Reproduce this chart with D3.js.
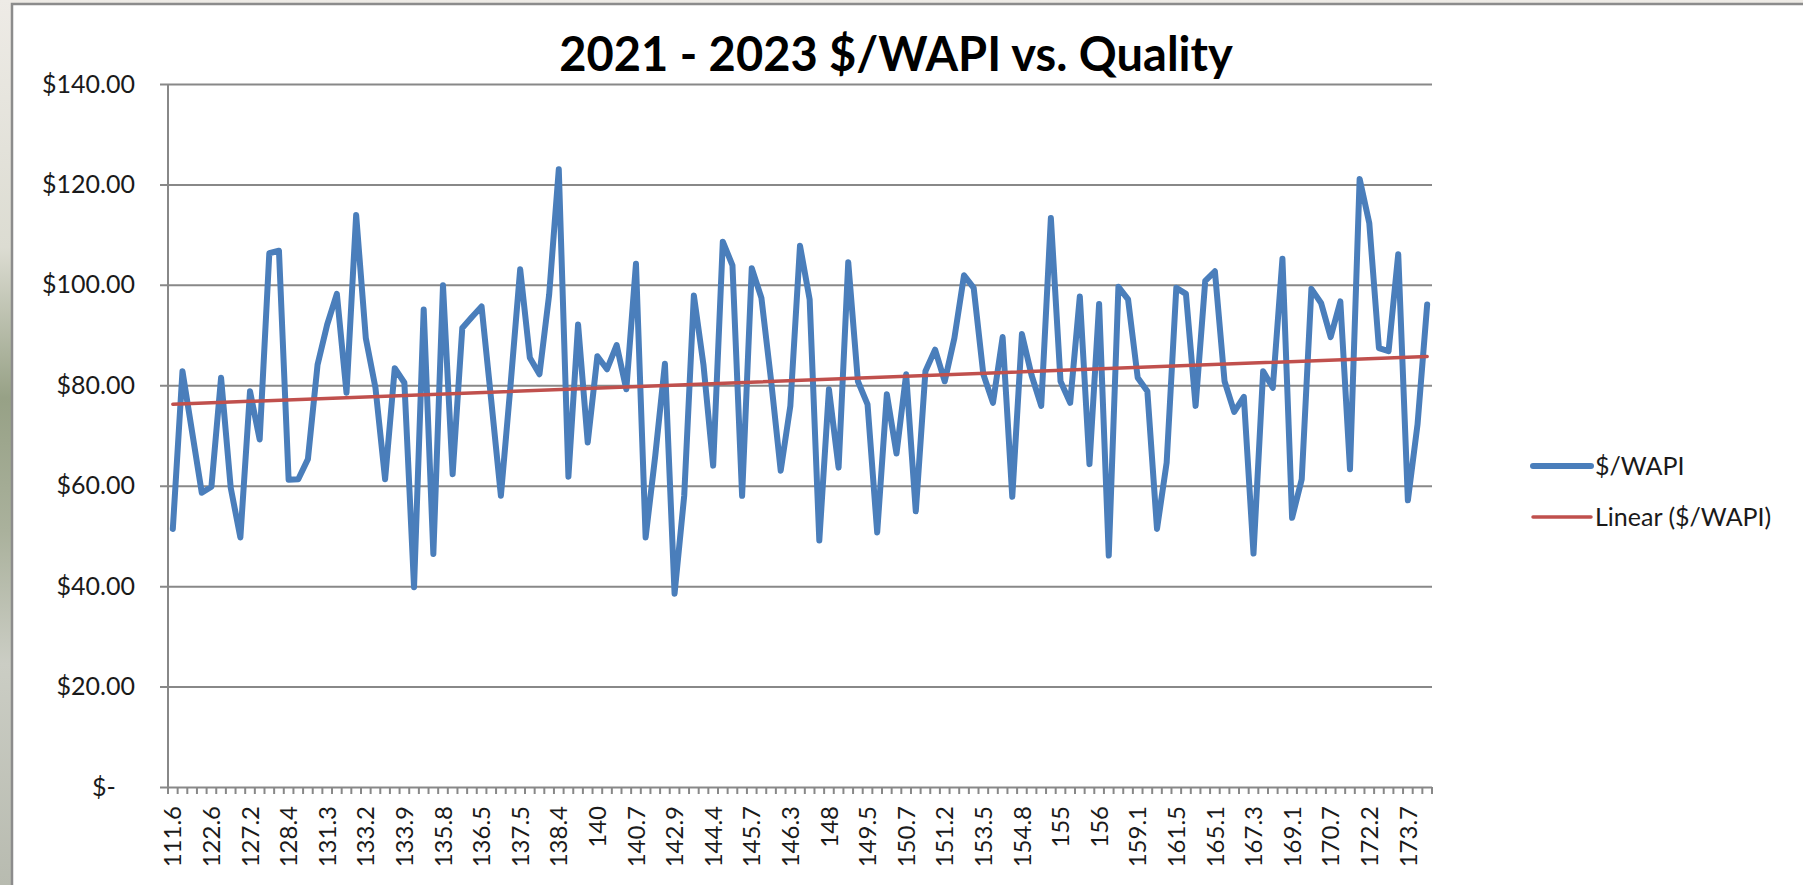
<!DOCTYPE html>
<html>
<head>
<meta charset="utf-8">
<script src="https://cdn.jsdelivr.net/npm/d3@7"></script>
<style>
  html, body { margin: 0; padding: 0; }
  body {
    width: 1803px; height: 885px; overflow: hidden;
    background: linear-gradient(#eeebe6 0%, #dcdcd2 28%, #97a186 45%, #aab19c 60%, #cbcdc4 75%, #b8bbb0 100%);
  }
  svg { display: block; font-family: Lato, "Open Sans", sans-serif; }
</style>
</head>
<body>
<svg id="chart" width="1803" height="885"></svg>
<script>
// quality values shown on the category axis (every 4th category)
const tickLabels = ["111.6", "122.6", "127.2", "128.4", "131.3", "133.2", "133.9", "135.8",
  "136.5", "137.5", "138.4", "140", "140.7", "142.9", "144.4", "145.7", "146.3", "148",
  "149.5", "150.7", "151.2", "153.5", "154.8", "155", "156", "159.1", "161.5", "165.1",
  "167.3", "169.1", "170.7", "172.2", "173.7"];

// $/WAPI, one value per sample
const values = [
  51.4, 82.8, 70.7, 58.6, 59.8, 81.5, 59.6, 49.7, 78.8, 69.2,
  106.3, 106.8, 61.2, 61.3, 65.3, 84.1, 92.1, 98.2, 78.5, 113.9,
  89.4, 79.5, 61.3, 83.4, 80.5, 39.8, 95.1, 46.4, 99.9, 62.3,
  91.4, 93.6, 95.7, 77.0, 58.0, 80.0, 103.1, 85.5, 82.2, 98.0,
  123.0, 61.8, 92.1, 68.6, 85.8, 83.2, 88.0, 79.2, 104.2, 49.7,
  66.0, 84.3, 38.5, 58.0, 97.9, 84.0, 64.0, 108.6, 103.9, 58.0,
  103.3, 97.4, 81.0, 63.0, 75.9, 107.8, 97.1, 49.1, 79.2, 63.6,
  104.5, 80.8, 76.2, 50.7, 78.2, 66.4, 82.2, 54.9, 82.8, 87.1,
  80.8, 89.4, 101.9, 99.4, 82.2, 76.5, 89.6, 57.8, 90.2, 82.0,
  75.9, 113.3, 80.8, 76.5, 97.7, 64.3, 96.2, 46.1, 99.6, 97.1,
  81.5, 78.8, 51.4, 64.6, 99.4, 98.2, 75.9, 100.8, 102.7, 80.8,
  74.7, 77.7, 46.5, 82.8, 79.5, 105.2, 53.6, 61.3, 99.2, 96.4,
  89.6, 96.7, 63.3, 121.1, 112.3, 87.4, 86.8, 106.1, 57.1, 72.2,
  96.1];

const yTicks = [0, 20, 40, 60, 80, 100, 120, 140];
const labelEvery = 4;

const svg = d3.select("#chart");
const plotL = 168, plotR = 1432, plotT = 84, plotB = 787;
const grey = "#888888";
const font = "Lato, 'Open Sans', sans-serif";

// chart area
svg.append("rect")
  .attr("x", 12).attr("y", 4)
  .attr("width", 1830).attr("height", 900)
  .attr("fill", "#ffffff")
  .attr("stroke", "#8c8c8c")
  .attr("stroke-width", 2.5);

const x = d3.scaleBand().domain(d3.range(values.length)).range([plotL, plotR]);
const cx = i => x(i) + x.bandwidth() / 2;
const y = d3.scaleLinear().domain([0, 140]).range([plotB, plotT]);

// value axis with gridlines
const yAxis = svg.append("g")
  .attr("transform", "translate(160,0)")
  .call(d3.axisLeft(y)
    .tickValues(yTicks)
    .tickSizeInner(-(plotR - 160))
    .tickSizeOuter(0)
    .tickPadding(25)
    .tickFormat(d => d === 0 ? "$-   " : "$" + d.toFixed(2)))
  .attr("font-family", font)
  .attr("font-size", 25);
yAxis.select(".domain").remove();
yAxis.selectAll("line").attr("stroke", grey).attr("stroke-width", 2);
yAxis.selectAll("text")
  .attr("fill", "#1a1a1a")
  .style("white-space", "pre");

svg.append("line")
  .attr("x1", plotL).attr("x2", plotL)
  .attr("y1", plotT).attr("y2", plotB + 7)
  .attr("stroke", grey).attr("stroke-width", 2);

// category ticks
const bounds = d3.range(values.length).map(i => x(i)).concat([plotR]);
svg.append("g").selectAll("line")
  .data(bounds)
  .join("line")
  .attr("x1", d => d).attr("x2", d => d)
  .attr("y1", plotB).attr("y2", plotB + 7)
  .attr("stroke", grey).attr("stroke-width", 2);

svg.append("g").selectAll("text")
  .data(tickLabels)
  .join("text")
  .attr("transform", (d, i) => `translate(${cx(i * labelEvery)},806) rotate(-90)`)
  .attr("text-anchor", "end")
  .attr("dy", "0.36em")
  .attr("font-size", 24)
  .attr("fill", "#1a1a1a")
  .text(d => d);

// series
const line = d3.line().x((d, i) => cx(i)).y(d => y(d));
svg.append("path")
  .datum(values)
  .attr("d", line)
  .attr("fill", "none")
  .attr("stroke", "#4a7ebb")
  .attr("stroke-width", 6)
  .attr("stroke-linejoin", "round")
  .attr("stroke-linecap", "round");

// linear trendline (least squares on the category index)
const n = values.length;
const mx = d3.mean(d3.range(n)), my = d3.mean(values);
const slope = d3.sum(values, (v, i) => (i - mx) * (v - my)) / d3.sum(d3.range(n), i => (i - mx) * (i - mx));
const icpt = my - slope * mx;
svg.append("line")
  .attr("x1", cx(0)).attr("y1", y(icpt))
  .attr("x2", cx(n - 1)).attr("y2", y(icpt + slope * (n - 1)))
  .attr("stroke", "#c0504d")
  .attr("stroke-width", 3.5)
  .attr("stroke-linecap", "round");

// title
svg.append("text")
  .attr("x", 896).attr("y", 71)
  .attr("text-anchor", "middle")
  .attr("font-size", 47)
  .attr("font-weight", "bold")
  .attr("fill", "#000")
  .text("2021 - 2023 $/WAPI vs. Quality");

// legend
const legend = [
  { name: "$/WAPI", color: "#4a7ebb", width: 6, y: 466 },
  { name: "Linear ($/WAPI)", color: "#c0504d", width: 3.5, y: 517 }
];
const lg = svg.append("g").selectAll("g").data(legend).join("g");
lg.append("line")
  .attr("x1", 1533).attr("x2", 1591)
  .attr("y1", d => d.y).attr("y2", d => d.y)
  .attr("stroke", d => d.color)
  .attr("stroke-width", d => d.width)
  .attr("stroke-linecap", "round");
lg.append("text")
  .attr("x", 1595).attr("y", d => d.y)
  .attr("dy", "0.36em")
  .attr("font-size", 25)
  .attr("fill", "#1a1a1a")
  .text(d => d.name);
</script>
</body>
</html>
